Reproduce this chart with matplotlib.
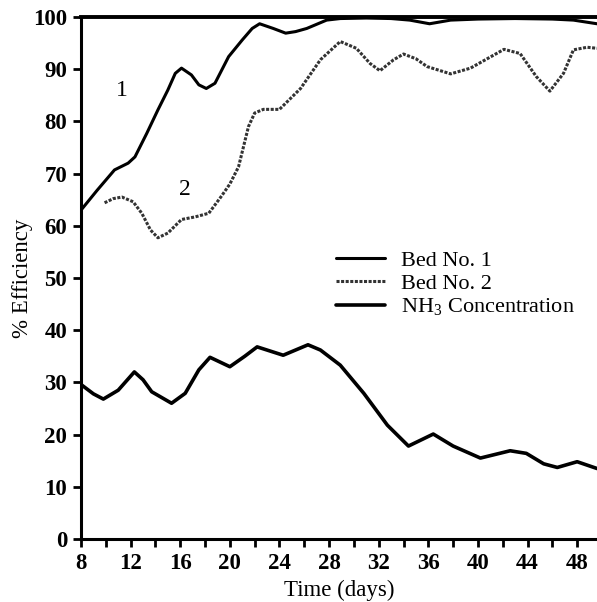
import matplotlib
matplotlib.use("Agg")
import matplotlib.pyplot as plt
from matplotlib.ticker import MultipleLocator

plt.rcParams['font.family'] = ['Liberation Serif', 'DejaVu Serif']
plt.rcParams['mathtext.fontset'] = 'custom'
plt.rcParams['mathtext.rm'] = 'Liberation Serif'
plt.rcParams['mathtext.it'] = 'Liberation Serif:italic'

bed1_days = [8.0, 9.3, 10.7, 11.8, 12.35, 13.3, 14.2, 15.0, 15.6, 16.1, 16.9, 17.5, 18.1, 18.8,
             19.9, 21.0, 21.8, 22.4, 23.5, 24.5, 25.3, 26.2, 27.8, 28.9, 31.0, 33.0, 34.5,
             36.1, 37.8, 40.0, 43.0, 46.0, 47.7, 49.6]
bed1_eff = [63.0, 66.8, 70.7, 72.0, 73.2, 77.7, 82.2, 86.0, 89.2, 90.2, 88.9, 87.0, 86.3, 87.3,
            92.4, 95.6, 97.8, 98.7, 97.8, 96.9, 97.2, 97.8, 99.4, 99.7, 99.8, 99.7, 99.4,
            98.7, 99.4, 99.6, 99.7, 99.6, 99.4, 98.7]

bed2_days = [9.9, 10.6, 11.3, 12.2, 12.9, 13.6, 14.2, 15.0, 16.1, 17.2, 18.3, 19.3, 20.0,
             20.7, 21.5, 22.0, 22.7, 24.0, 25.7, 27.3, 28.9, 30.2, 31.3, 32.1, 33.2, 34.0,
             35.0, 35.9, 37.8, 39.4, 42.1, 43.4, 44.7, 45.8, 46.9, 47.7, 48.8, 49.6]
bed2_eff = [64.4, 65.2, 65.5, 64.6, 62.4, 59.2, 57.7, 58.6, 61.2, 61.7, 62.4, 65.6, 68.0,
            71.3, 79.0, 81.6, 82.3, 82.3, 86.3, 91.8, 95.3, 94.0, 91.1, 89.7, 91.8, 92.9,
            92.0, 90.5, 89.1, 90.2, 93.8, 93.0, 88.6, 85.8, 89.2, 93.7, 94.2, 94.0]

nh3_days = [8.05, 9.0, 9.8, 11.0, 12.3, 13.0, 13.7, 15.3, 16.4, 17.5, 18.4, 20.0, 21.2,
            22.2, 24.3, 26.3, 27.3, 28.9, 30.8, 32.7, 34.4, 36.4, 38.0, 40.2, 42.6, 43.9,
            45.3, 46.4, 48.0, 49.6]
nh3_conc = [29.5, 27.8, 26.8, 28.5, 32.0, 30.5, 28.2, 26.0, 27.9, 32.4, 34.8, 33.0, 35.0,
            36.8, 35.2, 37.2, 36.2, 33.3, 27.9, 21.8, 17.8, 20.1, 17.8, 15.5, 16.9, 16.4,
            14.4, 13.7, 14.8, 13.5]

x_ticks = [8, 12, 16, 20, 24, 28, 32, 36, 40, 44, 48]
y_ticks = [0, 10, 20, 30, 40, 50, 60, 70, 80, 90, 100]

fig = plt.figure(figsize=(5.97, 6.02), dpi=100)
ax = fig.add_axes([0.1357, 0.1047, 0.8643, 0.8671])

kw = dict(solid_joinstyle='round', solid_capstyle='round')
ax.plot(bed1_days, bed1_eff, color='black', lw=2.2, label='Bed No. 1', **kw)
ax.plot(bed2_days, bed2_eff, color='#333333', lw=2.2, linestyle=(0, (1, 0.5)),
        label='Bed No. 2')
ax.plot(nh3_days, nh3_conc, color='black', lw=2.6, label='NH$_3$ Concentration', **kw)

ax.set_xlim(8, 49.6)
ax.set_ylim(0, 100)
ax.set_xticks(x_ticks)
ax.set_yticks(y_ticks)
ax.xaxis.set_minor_locator(MultipleLocator(2))
ax.tick_params(axis='both', which='both', direction='out', width=2, length=6,
               labelsize=16.5, pad=4)
for lab in ax.get_xticklabels() + ax.get_yticklabels():
    lab.set_fontweight('bold')

for s in ['left', 'bottom']:
    ax.spines[s].set_linewidth(2.2)
ax.spines['top'].set_linewidth(2.8)
ax.spines['right'].set_visible(False)

ax.set_xlabel('Time (days)', fontsize=16.5, labelpad=4)
ax.set_ylabel('% Efficiency', fontsize=16.5, labelpad=0)

ax.text(11.3, 86, '1', fontsize=17, ha='center', va='center')
ax.text(16.4, 67, '2', fontsize=17, ha='center', va='center')

ax.legend(loc='upper left', bbox_to_anchor=(0.455, 0.592), frameon=False, fontsize=16,
          handlelength=2.2, handletextpad=0.75, labelspacing=0.12)

fig.savefig('out.png', dpi=100)
